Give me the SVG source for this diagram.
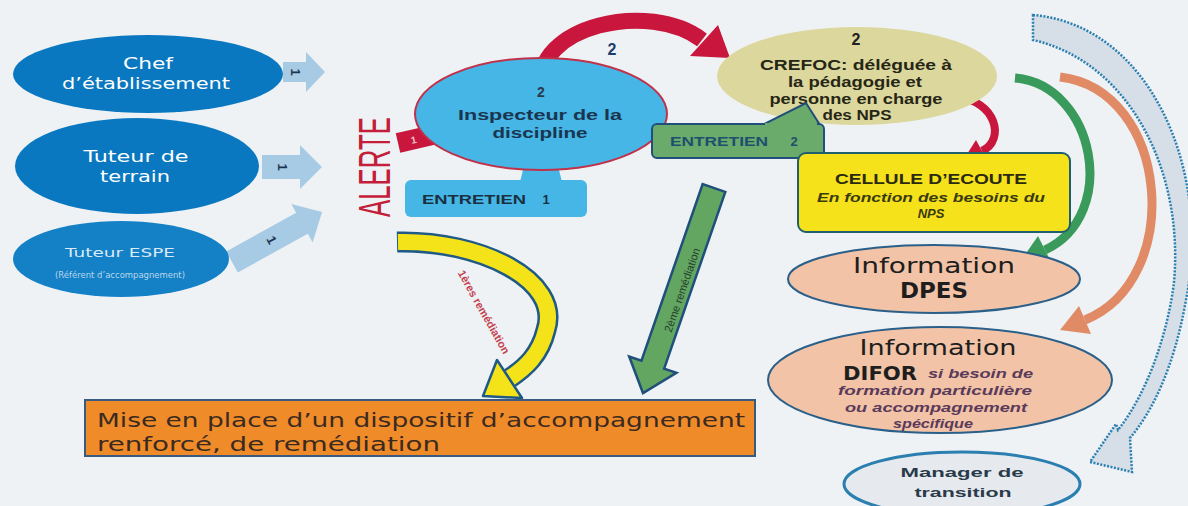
<svg xmlns="http://www.w3.org/2000/svg" width="1188" height="506" viewBox="0 0 1188 506">
<style>
.bg{fill:#eef2f5}
.lb{fill:#0a78c0}
.wt{fill:#ffffff;font-family:"DejaVu Sans","Liberation Sans",sans-serif;text-anchor:middle}
.la{fill:#a7cbe4}
.num{fill:#1e3550;font-family:"Liberation Sans",sans-serif;font-weight:bold;font-size:13px;text-anchor:middle}
.bd{font-family:"Liberation Sans","DejaVu Sans",sans-serif;font-weight:bold;text-anchor:middle}
.vd{font-family:"DejaVu Sans","Liberation Sans",sans-serif;text-anchor:middle}
.red{fill:#c8163c}
</style>
<rect class="bg" x="0" y="0" width="1188" height="506"/>

<g id="connectors">
  <g id="arrow-chef">
    <polygon class="la" points="283,62 306,62 306,52 325,72 306,92 306,82 283,82"/>
    <text class="num" transform="translate(295,72) rotate(90)" y="4">1</text>
  </g>
  <g id="arrow-terrain">
    <polygon class="la" points="262,155 300,155 300,145 322,167 300,189 300,179 262,179"/>
    <text class="num" transform="translate(282,167) rotate(90)" y="4">1</text>
  </g>
  <g id="arrow-espe" transform="translate(232,262) rotate(-29)">
    <polygon class="la" points="0,-12 80,-12 80,-22 103,0 80,22 80,12 0,12"/>
    <text class="num" transform="translate(45,0) rotate(90)" y="4">1</text>
  </g>
  <g id="arrow-alerte" transform="translate(398,143) rotate(-13)">
    <polygon class="red" points="0,-10 45,-10 45,-19 68,0 45,19 45,10 0,10"/>
    <text x="16" y="4" font-family="Liberation Sans,sans-serif" font-size="10" font-weight="bold" fill="#f4c4c8" text-anchor="middle">1</text>
  </g>
  <path d="M541 90 C532 25 650 0 702 40" fill="none" stroke="#c8163c" stroke-width="16"/>
  <polygon class="red" points="690,56 718,25 730,58"/>
  <text class="bd" x="612" y="55" font-size="16" fill="#1d3d6b">2</text>
  <path d="M956 97 C996 100 1006 140 982 151" fill="none" stroke="#c8163c" stroke-width="8"/>
  <polygon class="red" points="988,162 976,140 962,162"/>
  <path d="M1015 78 C1095 85 1120 215 1045 250" fill="none" stroke="#3a9a5c" stroke-width="9"/>
  <polygon fill="#3a9a5c" points="1052,264 1038,236 1020,262"/>
  <path d="M1060 77 C1170 90 1185 280 1085 320" fill="none" stroke="#e08a66" stroke-width="9"/>
  <polygon fill="#e08a66" points="1091,334 1079,306 1060,330"/>
  <path d="M1033 15 C1150 25 1212 170 1186 300 C1174 368 1152 412 1130 438 L1132 472 L1090 462 L1116 424 L1118 430 C1148 392 1168 332 1174 282 C1184 172 1130 62 1033 40 Z" fill="#d6dfe7" stroke="#2a7fb0" stroke-width="2.5" stroke-dasharray="2 1.5"/>
  <path d="M397 242 C480 240 562 280 546 330 C540 355 525 368 510 378" fill="none" stroke="#1f5a86" stroke-width="21"/>
  <path d="M398 242 C480 240 562 280 546 330 C540 355 525 368 510 378" fill="none" stroke="#f5e31a" stroke-width="16"/>
  <polygon fill="#f5e31a" stroke="#1f5a86" stroke-width="2.5" stroke-linejoin="round" points="522,398 497,360 483,396"/>
  <text transform="translate(484,312) rotate(60.6)" font-family="Liberation Sans,sans-serif" font-size="11" font-weight="bold" fill="#c4404e" text-anchor="middle" y="4">1ères remédiation</text>
  <g transform="translate(714,188) rotate(109.1)">
    <polygon fill="#62a662" stroke="#1f4f7a" stroke-width="2.5" points="0,-12 187,-12 187,-25 217,0 187,25 187,12 0,12"/>
  </g>
  <text transform="translate(682,290) rotate(-70.9)" font-family="Liberation Sans,sans-serif" font-size="11" fill="#24402a" text-anchor="middle" y="4">2ème remédiation</text>
</g>

<g id="node-chef">
  <ellipse class="lb" cx="148" cy="74" rx="135" ry="39"/>
  <text class="wt" x="148" y="69" font-size="16" textLength="50" lengthAdjust="spacingAndGlyphs">Chef</text>
  <text class="wt" x="146" y="89" font-size="16" textLength="168" lengthAdjust="spacingAndGlyphs">d’établissement</text>
</g>
<g id="node-terrain">
  <ellipse class="lb" cx="137" cy="166" rx="122" ry="48"/>
  <text class="wt" x="136" y="162" font-size="16" textLength="105" lengthAdjust="spacingAndGlyphs">Tuteur de</text>
  <text class="wt" x="135" y="182" font-size="16" textLength="70" lengthAdjust="spacingAndGlyphs">terrain</text>
</g>
<g id="node-espe">
  <ellipse fill="#1480c6" cx="121" cy="259" rx="108" ry="38"/>
  <text class="wt" x="120" y="257" font-size="13" fill-opacity="0.85" textLength="110" lengthAdjust="spacingAndGlyphs">Tuteur ESPE</text>
  <text class="wt" x="120" y="278" font-size="9" fill-opacity="0.7" textLength="130" lengthAdjust="spacingAndGlyphs">(Référent d’accompagnement)</text>
</g>
<g id="node-alerte">
  <text transform="translate(390,167) rotate(-90)" font-family="Liberation Sans,sans-serif" font-size="44" fill="#c41e3a" text-anchor="middle" textLength="100" lengthAdjust="spacingAndGlyphs">ALERTE</text>
</g>
<g id="node-inspecteur">
  <path d="M524 166 L558 166 L562 182 L520 182 Z" fill="#45b6e6"/>
  <ellipse cx="541" cy="114" rx="126" ry="56" fill="#45b6e6" stroke="#c0324a" stroke-width="2"/>
  <text class="bd" x="541" y="97" font-size="14" fill="#2a3a4a">2</text>
  <text class="bd" x="540" y="120" font-size="14" fill="#1a3550" textLength="164" lengthAdjust="spacingAndGlyphs">Inspecteur de la</text>
  <text class="bd" x="540" y="138" font-size="14" fill="#1a3550" textLength="95" lengthAdjust="spacingAndGlyphs">discipline</text>
</g>
<g id="node-entretien1">
  <rect x="405" y="180" width="182" height="37" rx="6" fill="#45b6e6"/>
  <text class="bd" x="474" y="204" font-size="13" fill="#1a3040" textLength="104" lengthAdjust="spacingAndGlyphs">ENTRETIEN</text>
  <text class="bd" x="546" y="204" font-size="13" fill="#1a3040">1</text>
</g>
<g id="node-crefoc">
  <ellipse cx="857" cy="76" rx="140" ry="49" fill="#dcd79c"/>
  <text class="bd" x="856" y="45" font-size="16" fill="#222">2</text>
  <text class="bd" x="856" y="70" font-size="14" fill="#262616" textLength="192" lengthAdjust="spacingAndGlyphs">CREFOC: déléguée à</text>
  <text class="bd" x="855" y="87" font-size="14" fill="#262616" textLength="134" lengthAdjust="spacingAndGlyphs">la pédagogie et</text>
  <text class="bd" x="856" y="104" font-size="14" fill="#262616" textLength="173" lengthAdjust="spacingAndGlyphs">personne en charge</text>
  <text class="bd" x="857" y="120" font-size="14" fill="#262616" textLength="69" lengthAdjust="spacingAndGlyphs">des NPS</text>
</g>
<g id="node-entretien2">
  <path d="M762 125 L806 103 L820 125 Z" fill="#6aaa6a" stroke="#1f4f7a" stroke-width="2"/>
  <rect x="652" y="124" width="172" height="34" rx="5" fill="#6aaa6a" stroke="#1f4f7a" stroke-width="2"/>
  <rect x="765" y="123" width="52" height="4" fill="#6aaa6a"/>
  <text class="bd" x="719" y="146" font-size="13" fill="#1f4f6f" textLength="98" lengthAdjust="spacingAndGlyphs">ENTRETIEN</text>
  <text class="bd" x="794" y="146" font-size="13" fill="#1f4f6f">2</text>
</g>
<g id="node-cellule">
  <rect x="798" y="153" width="272" height="79" rx="8" fill="#f6e21a" stroke="#1f5f6f" stroke-width="2"/>
  <text class="bd" x="931" y="184" font-size="15" fill="#2a2a10" textLength="192" lengthAdjust="spacingAndGlyphs">CELLULE D’ECOUTE</text>
  <text class="bd" x="931" y="202" font-size="13" font-style="italic" fill="#3a3a10" textLength="228" lengthAdjust="spacingAndGlyphs">En fonction des besoins du</text>
  <text class="bd" x="931" y="218" font-size="13" font-style="italic" fill="#3a3a10">NPS</text>
</g>
<g id="node-dpes">
  <ellipse cx="934" cy="279" rx="146" ry="34" fill="#f2c3a6" stroke="#2a5f8a" stroke-width="2"/>
  <text class="vd" x="934" y="273" font-size="21" fill="#1e1e1e" textLength="162" lengthAdjust="spacingAndGlyphs">Information</text>
  <text class="vd" x="934" y="298" font-size="21" font-weight="bold" fill="#1e1e1e" textLength="68" lengthAdjust="spacingAndGlyphs">DPES</text>
</g>
<g id="node-difor">
  <ellipse cx="940" cy="380" rx="172" ry="53" fill="#f2c3a6" stroke="#2a5f8a" stroke-width="2"/>
  <text class="vd" x="938" y="355" font-size="21" fill="#1e1e1e" textLength="157" lengthAdjust="spacingAndGlyphs">Information</text>
  <text x="843" y="380" font-family="DejaVu Sans,sans-serif" font-size="20" font-weight="bold" fill="#1e1e1e" textLength="74" lengthAdjust="spacingAndGlyphs">DIFOR</text>
  <text x="928" y="378" font-family="Liberation Sans,sans-serif" font-size="13" font-weight="bold" font-style="italic" fill="#5a3a5a" textLength="105" lengthAdjust="spacingAndGlyphs">si besoin de</text>
  <text class="bd" x="935" y="395" font-size="13" font-style="italic" fill="#5a3a5a" textLength="194" lengthAdjust="spacingAndGlyphs">formation particulière</text>
  <text class="bd" x="936" y="412" font-size="13" font-style="italic" fill="#5a3a5a" textLength="182" lengthAdjust="spacingAndGlyphs">ou accompagnement</text>
  <text class="bd" x="933" y="428" font-size="13" font-style="italic" fill="#5a3a5a" textLength="80" lengthAdjust="spacingAndGlyphs">spécifique</text>
</g>
<g id="node-manager">
  <ellipse cx="962" cy="484" rx="118" ry="32" fill="#e6eaee" stroke="#2a7fb0" stroke-width="3"/>
  <text class="bd" x="962" y="477" font-size="13" fill="#2a3a4a" textLength="123" lengthAdjust="spacingAndGlyphs">Manager de</text>
  <text class="bd" x="963" y="497" font-size="13" fill="#2a3a4a" textLength="97" lengthAdjust="spacingAndGlyphs">transition</text>
</g>
<g id="node-mise">
  <rect x="85" y="400" width="670" height="56" fill="#f08b2a" stroke="#3a5a80" stroke-width="2"/>
  <text x="97" y="427" font-family="DejaVu Sans,sans-serif" font-size="19" fill="#3a2a20" textLength="648" lengthAdjust="spacingAndGlyphs">Mise en place d’un dispositif d’accompagnement</text>
  <text x="97" y="451" font-family="DejaVu Sans,sans-serif" font-size="19" fill="#3a2a20" textLength="343" lengthAdjust="spacingAndGlyphs">renforcé, de remédiation</text>
</g>
</svg>
